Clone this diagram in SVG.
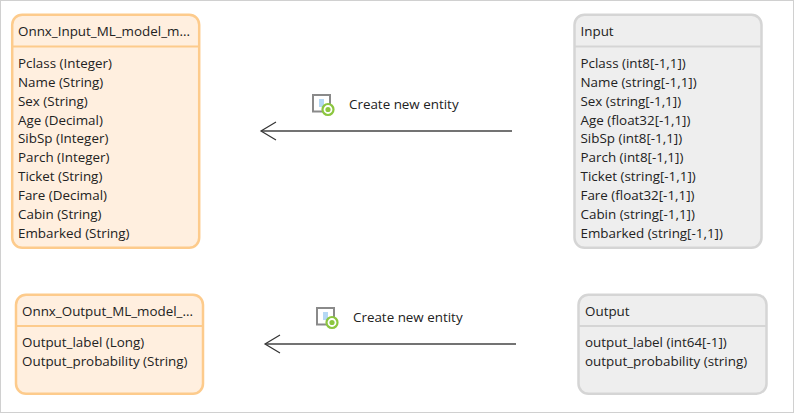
<svg xmlns="http://www.w3.org/2000/svg" width="794" height="413" viewBox="0 0 794 413">
<style>
text{font-family:"Open Sans","Noto Sans","Liberation Sans",sans-serif;font-size:13.4px;fill:#222}
.o{fill:#ffefdf;stroke:#fdcb8c;stroke-width:2.5}
.g{fill:#eeeeee;stroke:#d5d5d5;stroke-width:2.5}
.ol{stroke:#fdcb8c;stroke-width:2}
.gl{stroke:#d5d5d5;stroke-width:2}
.c{fill:none;stroke:#444;stroke-width:1.5}
.h{fill:none;stroke:#333;stroke-width:1.2}
</style>
<defs>
<g id="icon">
<rect x="1" y="1" width="17" height="16.500" fill="#fff" stroke="#8a8a8a" stroke-width="2"/>
<rect x="7" y="5" width="5" height="8" fill="#b5d8f4"/>
<circle cx="16" cy="15.500" r="5.500" fill="#fff" stroke="#8cc63f" stroke-width="2.200"/>
<circle cx="16" cy="15.500" r="2.600" fill="#8cc63f"/>
</g>
</defs>
<rect x="0.5" y="0.5" width="793" height="412" fill="#fff" stroke="#d0d0d0"/>
<g id="connectors">
<path class="c" d="M512 131H262"/><path class="h" d="M276 122L261 131L276 140"/>
<path class="c" d="M516 344H266"/><path class="h" d="M280 335L265 344L280 353"/>
</g>
<g id="node-onnx-input">
<rect class="o" x="12.2" y="14.7" width="187" height="233" rx="10"/>
<path class="ol" d="M12 46.500H199"/>
<text x="18" y="36">Onnx_Input_ML_model_m...</text>
<text x="18" y="67.500">Pclass (Integer)</text>
<text x="18" y="86.500">Name (String)</text>
<text x="18" y="105.500">Sex (String)</text>
<text x="18" y="124.500">Age (Decimal)</text>
<text x="18" y="143">SibSp (Integer)</text>
<text x="18" y="162">Parch (Integer)</text>
<text x="18" y="181">Ticket (String)</text>
<text x="18" y="200">Fare (Decimal)</text>
<text x="18" y="219">Cabin (String)</text>
<text x="18" y="238">Embarked (String)</text>
</g>
<g id="node-input">
<rect class="g" x="574.500" y="14.700" width="187" height="233" rx="10"/>
<path class="gl" d="M574 46.500H762"/>
<text x="580.500" y="36">Input</text>
<text x="580.500" y="67.500">Pclass (int8[-1,1])</text>
<text x="580.500" y="86.500">Name (string[-1,1])</text>
<text x="580.500" y="105.500">Sex (string[-1,1])</text>
<text x="580.500" y="124.500">Age (float32[-1,1])</text>
<text x="580.500" y="143">SibSp (int8[-1,1])</text>
<text x="580.500" y="162">Parch (int8[-1,1])</text>
<text x="580.500" y="181">Ticket (string[-1,1])</text>
<text x="580.500" y="200">Fare (float32[-1,1])</text>
<text x="580.500" y="219">Cabin (string[-1,1])</text>
<text x="580.500" y="238">Embarked (string[-1,1])</text>
</g>
<g id="node-onnx-output">
<rect class="o" x="16" y="294.700" width="187" height="99" rx="10"/>
<path class="ol" d="M16 326H203"/>
<text x="22" y="316">Onnx_Output_ML_model_...</text>
<text x="22" y="346.500">Output_label (Long)</text>
<text x="22" y="365.500">Output_probability (String)</text>
</g>
<g id="node-output">
<rect class="g" x="578.500" y="294.700" width="188" height="99" rx="10"/>
<path class="gl" d="M578 326H767"/>
<text x="585" y="316">Output</text>
<text x="585" y="346.500">output_label (int64[-1])</text>
<text x="585" y="365.500">output_probability (string)</text>
</g>
<g id="label-input-mapping">
<use href="#icon" x="312" y="94"/>
<text x="349" y="109">Create new entity</text>
</g>
<g id="label-output-mapping">
<use href="#icon" x="316" y="307"/>
<text x="353" y="322">Create new entity</text>
</g>
</svg>
